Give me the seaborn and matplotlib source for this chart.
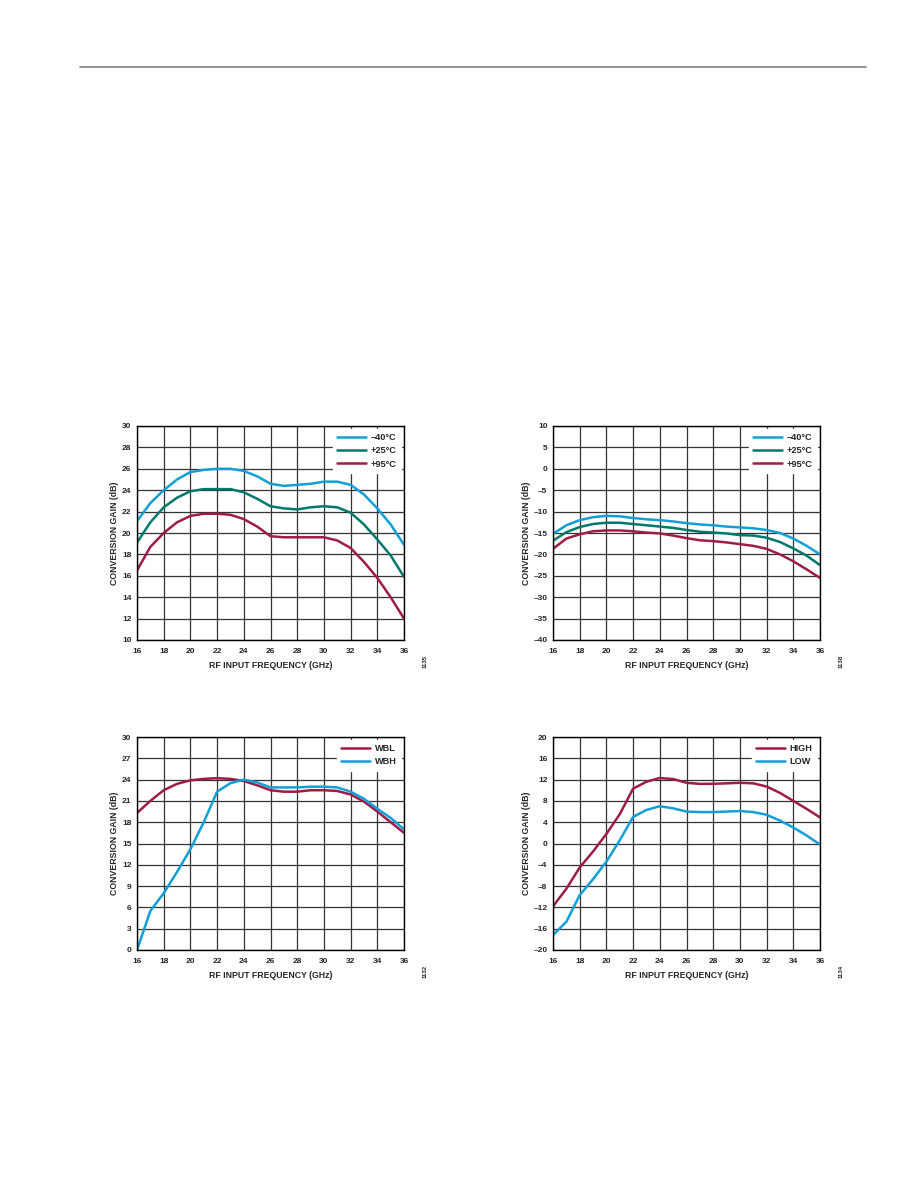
import numpy as np
import pandas as pd
import matplotlib
matplotlib.use("Agg")
import matplotlib.pyplot as plt
import seaborn as sns

# RF input frequency (GHz)
freq = [16, 17, 18, 19, 20, 21, 22, 23, 24, 25, 26, 27, 28, 29, 30, 31, 32, 33, 34, 35, 36]

# Chart 1: conversion gain vs temperature (upper sideband)
g1_m40 = [21.1, 22.8, 24.0, 25.0, 25.7, 25.9, 26.0, 26.0, 25.8, 25.3, 24.6, 24.4, 24.5, 24.6, 24.8, 24.8, 24.5, 23.6, 22.3, 20.8, 18.9]
g1_p25 = [19.1, 21.0, 22.4, 23.3, 23.9, 24.1, 24.1, 24.1, 23.8, 23.2, 22.5, 22.3, 22.2, 22.4, 22.5, 22.4, 21.9, 20.8, 19.4, 17.9, 15.9]
g1_p95 = [16.5, 18.7, 20.0, 21.0, 21.6, 21.8, 21.8, 21.7, 21.3, 20.6, 19.7, 19.6, 19.6, 19.6, 19.6, 19.3, 18.6, 17.3, 15.8, 14.0, 12.0]

# Chart 2: conversion gain vs temperature (lower setting)
g2_m40 = [-15.2, -13.2, -12.0, -11.3, -11.0, -11.1, -11.5, -11.8, -12.0, -12.3, -12.7, -13.0, -13.2, -13.5, -13.7, -13.9, -14.3, -15.0, -16.3, -18.0, -20.0]
g2_p25 = [-16.8, -14.8, -13.6, -12.9, -12.6, -12.6, -12.9, -13.2, -13.5, -13.8, -14.3, -14.7, -14.9, -15.1, -15.5, -15.6, -16.1, -17.1, -18.6, -20.3, -22.5]
g2_p95 = [-18.7, -16.3, -15.3, -14.6, -14.4, -14.4, -14.6, -14.9, -15.1, -15.6, -16.2, -16.7, -16.9, -17.2, -17.6, -18.0, -18.7, -20.0, -21.6, -23.5, -25.5]

# Chart 3: WBL / WBH
g3_wbl = [19.3, 21.0, 22.5, 23.4, 23.9, 24.1, 24.2, 24.1, 23.8, 23.2, 22.5, 22.3, 22.3, 22.5, 22.5, 22.4, 21.9, 20.9, 19.5, 18.0, 16.5]
g3_wbh = [0.0, 5.5, 8.0, 11.0, 14.2, 18.0, 22.3, 23.5, 24.0, 23.6, 22.9, 22.9, 22.9, 23.0, 23.0, 22.9, 22.3, 21.3, 19.9, 18.6, 17.0]

# Chart 4: HIGH / LOW gain mode
g4_high = [-11.8, -8.5, -4.5, -1.5, 1.8, 5.5, 10.3, 11.6, 12.3, 12.1, 11.4, 11.2, 11.2, 11.3, 11.4, 11.3, 10.7, 9.5, 8.0, 6.5, 4.9]
g4_low = [-17.2, -14.7, -9.7, -6.7, -3.4, 0.6, 5.0, 6.3, 7.0, 6.6, 6.0, 5.9, 5.9, 6.0, 6.1, 5.9, 5.4, 4.3, 3.0, 1.5, -0.2]

CYAN = "#129fd6"
TEAL = "#00796b"
MAROON = "#9e1c48"

sns.set_style("white")
plt.rcParams["font.family"] = ["Liberation Sans", "DejaVu Sans"]
plt.rcParams["font.weight"] = "bold"

fig = plt.figure(figsize=(9.18, 11.88), dpi=100)
W, H = 918, 1188

# header rule
fig.add_artist(plt.Line2D([80 / W, 866 / W], [1 - 67 / H, 1 - 67 / H], color="#808080", lw=1.2))


def make_ax(x0, y_top, x1, y_bot):
    return fig.add_axes([x0 / W, 1 - y_bot / H, (x1 - x0) / W, (y_bot - y_top) / H])


def draw(ax, series, yticks, fignum):
    df = pd.DataFrame({"freq": freq * len(series),
                       "gain": sum([s[1] for s in series], []),
                       "label": sum([[s[0]] * len(freq) for s in series], [])})
    pal = {s[0]: s[2] for s in series}
    sns.lineplot(data=df, x="freq", y="gain", hue="label", palette=pal, ax=ax, lw=1.8, legend=False)
    ax.set_xlim(16, 36)
    ax.set_ylim(yticks[0], yticks[-1])
    ax.set_xticks(range(16, 37, 2))
    ax.set_yticks(yticks)
    ax.set_yticklabels([("\u2013" + str(abs(t))) if t < 0 else str(t) for t in yticks])
    ax.grid(True, color="#333333", lw=0.9)
    ax.set_axisbelow(True)
    for sp in ax.spines.values():
        sp.set_color("black")
        sp.set_linewidth(1.0)
    ax.tick_params(axis="y", labelsize=6, length=0, pad=4)
    ax.tick_params(axis="x", labelsize=6, length=0, pad=6)
    ax.set_xlabel("RF INPUT FREQUENCY (GHz)", fontsize=6.3, fontweight="bold", labelpad=4)
    ax.set_ylabel("CONVERSION GAIN (dB)", fontsize=6.3, fontweight="bold", labelpad=2)
    handles = [plt.Line2D([], [], color=s[2], lw=1.8) for s in series]
    leg = ax.legend(handles, [s[0] for s in series], loc="upper right", fontsize=6.6,
                    frameon=True, fancybox=False, framealpha=1, edgecolor="white",
                    handlelength=3.2, handletextpad=0.5, labelspacing=0.45,
                    borderaxespad=0.35, borderpad=0.45)
    for t in leg.get_texts():
        t.set_fontweight("bold")
    ax.text(1.08, -0.1, fignum, transform=ax.transAxes, rotation=90,
            fontsize=4.3, ha="center", va="center")


ax1 = make_ax(137, 426, 404, 640)
draw(ax1, [("\u201340\u00b0C", g1_m40, CYAN), ("+25\u00b0C", g1_p25, TEAL), ("+95\u00b0C", g1_p95, MAROON)],
     list(range(10, 31, 2)), "1135")

ax2 = make_ax(553, 426, 820, 640)
draw(ax2, [("\u201340\u00b0C", g2_m40, CYAN), ("+25\u00b0C", g2_p25, TEAL), ("+95\u00b0C", g2_p95, MAROON)],
     list(range(-40, 11, 5)), "1138")

ax3 = make_ax(137, 737, 404, 950)
draw(ax3, [("WBL", g3_wbl, MAROON), ("WBH", g3_wbh, CYAN)],
     list(range(0, 31, 3)), "1132")

ax4 = make_ax(553, 737, 820, 950)
draw(ax4, [("HIGH", g4_high, MAROON), ("LOW", g4_low, CYAN)],
     list(range(-20, 21, 4)), "1134")

fig.savefig("out.png", dpi=100, facecolor="white")
